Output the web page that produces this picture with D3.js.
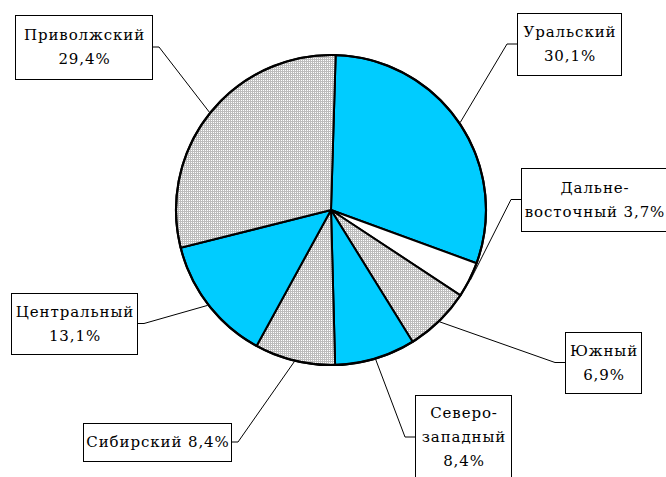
<!DOCTYPE html>
<html>
<head>
<meta charset="utf-8">
<script src="https://cdn.jsdelivr.net/npm/d3@7"></script>
<style>
  body { margin: 0; background: #fff; }
</style>
</head>
<body>
<div id="chart"></div>
<script>
// данные
const regions = ["Уральский", "Дальневосточный", "Южный", "Северо-западный", "Сибирский", "Центральный", "Приволжский"];
const shares = [30.1, 3.7, 6.9, 8.4, 8.4, 13.1, 29.4];
// строки подписей, {v} -> процент
const labelLines = [
    ["Уральский", "{v}"],
    ["Дальне-", "восточный {v}"],
    ["Южный", "{v}"],
    ["Северо-", "западный", "{v}"],
    ["Сибирский {v}"],
    ["Центральный", "{v}"],
    ["Приволжский", "{v}"]
];

// оформление
const fills = ["#00ccff", "#ffffff", "url(#dots)", "#00ccff", "url(#dots)", "#00ccff", "url(#dots)"];
const boxes = [
    {x: 517, y: 13, w: 104, h: 62, side: "r"},
    {x: 521, y: 168, w: 146, h: 63, side: "r"},
    {x: 565, y: 332, w: 76, h: 61, side: "r"},
    {x: 415, y: 395, w: 96, h: 84, side: "r"},
    {x: 83, y: 423, w: 148, h: 38, side: "l"},
    {x: 11, y: 293, w: 126, h: 61, side: "l"},
    {x: 15, y: 15, w: 137, h: 64, side: "l"}
];

const width = 666, height = 477;
const cx = 331, cy = 210, radius = 155;
const startA = 0.03;

const svg = d3.select("#chart")
    .append("svg")
    .attr("width", width)
    .attr("height", height);

const pat = svg.append("defs").append("pattern")
    .attr("id", "dots")
    .attr("width", 2).attr("height", 2)
    .attr("patternUnits", "userSpaceOnUse");
pat.append("rect").attr("width", 2).attr("height", 2).attr("fill", "#bcbcbc");
pat.append("rect").attr("width", 1).attr("height", 1).attr("fill", "#ffffff");

const pie = d3.pie().sort(null).startAngle(startA).endAngle(startA + 2 * Math.PI);
const arcs = pie(shares);
const arc = d3.arc().innerRadius(0).outerRadius(radius);

const g = svg.append("g").attr("transform", "translate(" + cx + "," + cy + ")");

g.selectAll("path.slice")
    .data(arcs)
    .enter()
    .append("path")
    .attr("class", "slice")
    .attr("d", arc)
    .attr("fill", (d, i) => fills[i])
    .attr("stroke", "#000")
    .attr("stroke-width", 2)
    .attr("stroke-linejoin", "round");

g.append("circle")
    .attr("r", radius)
    .attr("fill", "none")
    .attr("stroke", "#000")
    .attr("stroke-width", 2.2);

const fmt = v => v.toFixed(1).replace(".", ",") + "%";

// выноски
arcs.forEach((d, i) => {
    const b = boxes[i];
    const mid = (d.startAngle + d.endAngle) / 2;
    const px = cx + (radius + 1) * Math.sin(mid);
    const py = cy - (radius + 1) * Math.cos(mid);
    const ly = b.y + b.h / 2;
    const ex = b.side === "r" ? b.x : b.x + b.w;
    const elbow = b.side === "r" ? ex - 10 : ex + 7;

    svg.append("path")
        .attr("d", d3.line()([[px, py], [elbow, ly], [ex, ly]]))
        .attr("fill", "none")
        .attr("stroke", "#000")
        .attr("stroke-width", 1);

    svg.append("rect")
        .attr("x", b.x + 0.5)
        .attr("y", b.y + 0.5)
        .attr("width", b.w)
        .attr("height", b.h)
        .attr("fill", "#fff")
        .attr("stroke", "#000")
        .attr("stroke-width", 1);

    const lines = labelLines[i].map(s => s.replace("{v}", fmt(shares[i])));
    const step = 24;
    const y0 = ly - (lines.length - 1) * step / 2;
    const t = svg.append("text")
        .style("font-family", "'DejaVu Serif', serif")
        .attr("font-size", 15)
        .attr("letter-spacing", 0.9)
        .attr("fill", "#000")
        .attr("text-anchor", "middle");
    lines.forEach((s, k) => {
        t.append("tspan")
            .attr("x", b.x + b.w / 2 + 1)
            .attr("y", y0 + k * step)
            .attr("dy", "0.35em")
            .text(s);
    });
});
</script>
</body>
</html>
